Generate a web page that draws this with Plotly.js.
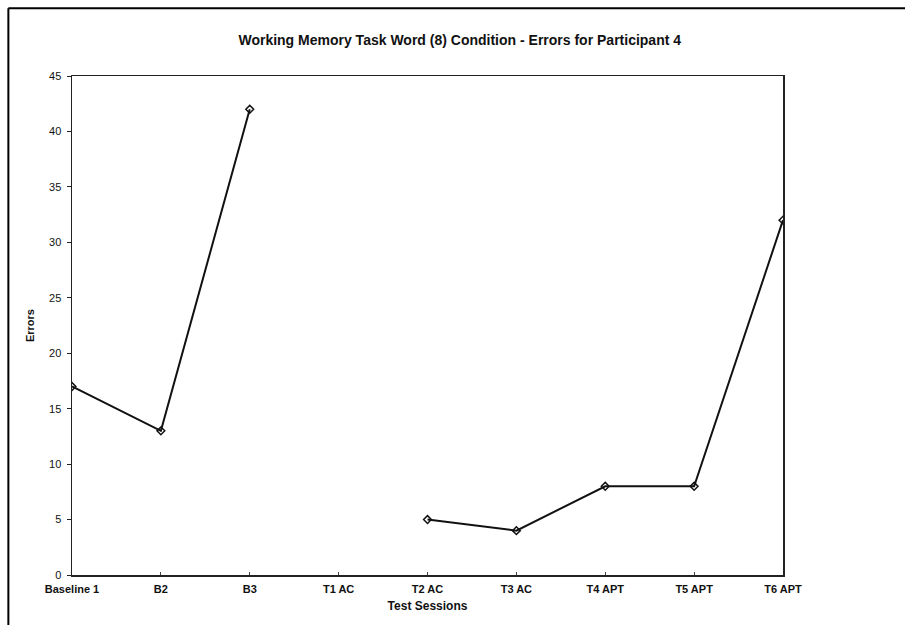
<!DOCTYPE html>
<html>
<head>
<meta charset="utf-8">
<script src="https://cdn.plot.ly/plotly-3.0.1.min.js"></script>
<style>
html,body{margin:0;padding:0;background:#fff;}
#chart{width:905px;height:625px;}
</style>
</head>
<body>
<div id="chart"></div>
<script>
const sessions = ["Baseline 1", "B2", "B3", "T1 AC", "T2 AC", "T3 AC", "T4 APT", "T5 APT", "T6 APT"];
const errors = [17, 13, 42, null, 5, 4, 8, 8, 32];
const yTicks = [0, 5, 10, 15, 20, 25, 30, 35, 40, 45];

const trace = {
  x: sessions,
  y: errors,
  type: "scatter",
  mode: "lines+markers",
  connectgaps: false,
  line: {color: "#111", width: 2},
  marker: {symbol: "diamond-open", size: 6, color: "#111", line: {width: 1.5, color: "#111"}},
  hoverinfo: "x+y"
};

const layout = {
  width: 905,
  height: 625,
  paper_bgcolor: "#fff",
  plot_bgcolor: "#fff",
  showlegend: false,
  margin: {l: 72, r: 122, t: 76, b: 50},
  font: {family: "Liberation Sans, Arial, sans-serif", color: "#111"},
  title: {
    text: "<b>Working Memory Task Word (8) Condition - Errors for Participant 4</b>",
    font: {size: 14, color: "#111"},
    x: 0.508, xref: "container", xanchor: "center",
    y: 0.936, yref: "container", yanchor: "middle"
  },
  xaxis: {
    type: "category",
    categoryorder: "array",
    categoryarray: sessions,
    range: [0, 8],
    showgrid: false,
    zeroline: false,
    showline: true,
    linecolor: "#222",
    linewidth: 1.5,
    mirror: true,
    ticks: "inside",
    ticklen: 3,
    tickcolor: "#444",
    ticklabelstandoff: 3,
    tickfont: {size: 11, color: "#111", weight: "bold"},
    title: {text: "<b>Test Sessions</b>", font: {size: 12, color: "#111"}, standoff: 8}
  },
  yaxis: {
    range: [0, 45],
    tickvals: yTicks,
    showgrid: false,
    zeroline: false,
    showline: true,
    linecolor: "#222",
    linewidth: 1.5,
    mirror: true,
    ticks: "outside",
    ticklen: 4,
    tickcolor: "#222",
    ticklabelstandoff: 3,
    tickfont: {size: 11, color: "#111"},
    title: {text: "<b>Errors</b>", font: {size: 11, color: "#111"}, standoff: 12}
  },
  shapes: [
    {type: "line", xref: "paper", yref: "paper", x0: -0.0895, x1: 1.2, y0: 1.136, y1: 1.136, line: {color: "#000", width: 2}},
    {type: "line", xref: "paper", yref: "paper", x0: -0.0895, x1: -0.0895, y0: 1.136, y1: -0.12, line: {color: "#000", width: 2}}
  ]
};

Plotly.newPlot("chart", [trace], layout, {displayModeBar: false, staticPlot: true});
</script>
</body>
</html>
